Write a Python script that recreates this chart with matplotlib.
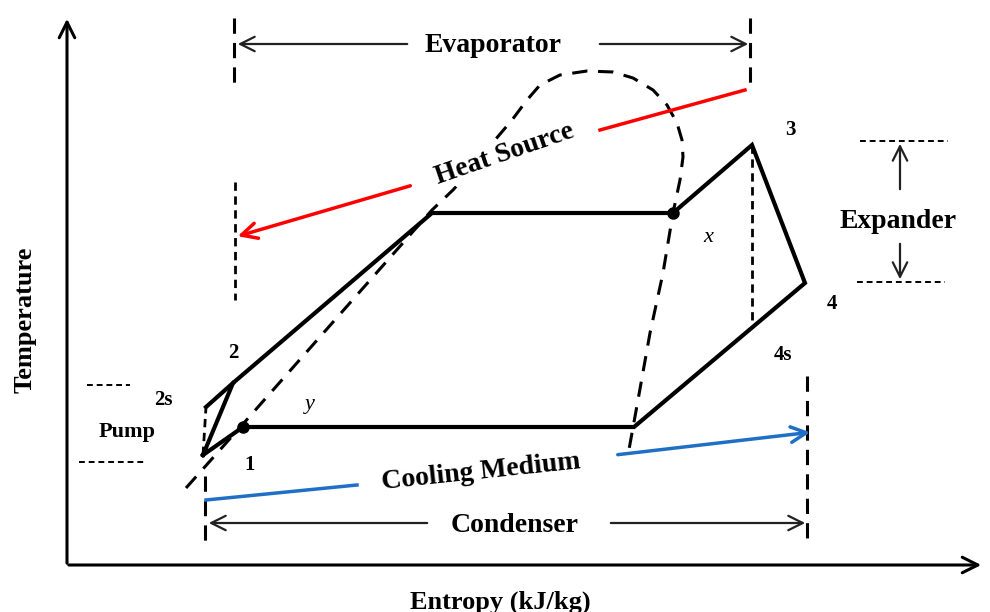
import matplotlib.pyplot as plt

# ---- cycle state points (schematic units, T grows upward) ----
# 1 -> 2 -> sat. liquid -> x -> 3 -> 4 -> sat. vapour(cond.) -> y -> 1
cycle_s = [203, 233, 432, 673, 752, 805, 634, 243, 203]
cycle_T = [157, 229, 399, 399, 467, 329, 185, 185, 157]
pump_ideal_s = [203, 206, 233]      # 1 -> 2s -> 2
pump_ideal_T = [157, 205, 229]
exp_ideal_s = [752, 752]            # 3 -> 4s
exp_ideal_T = [467, 290]
dots_s = [673, 243]
dots_T = [399, 185]

# saturation dome (dashed)
dome_s = [186, 243, 432, 453, 475, 495, 512, 527, 540, 560, 587, 613, 633,
          653, 667, 677, 682, 683, 680, 673, 663, 650, 638, 628]
dome_T = [124, 188, 402, 422, 447, 472, 492, 512, 527, 537, 541, 540, 534,
          522, 507, 489, 472, 455, 432, 399, 339, 279, 212, 157]

point_labels = ["1", "2", "2s", "3", "4", "4s"]
point_label_s = [250, 233, 163, 790, 832, 783]
point_label_T = [147, 259, 212, 482, 308, 257]

H = 612


def T(v):
    return H - v


fig = plt.figure(figsize=(9.9, 6.12), dpi=100)
ax = fig.add_axes([0, 0, 1, 1])
ax.set_xlim(0, 990)
ax.set_ylim(0, H)
ax.axis("off")
font = dict(family="Liberation Serif", weight="bold")

# axes arrows
arr = dict(arrowstyle="->", lw=2.2, color="black", mutation_scale=28)
ax.annotate("", xy=(67, T(16)), xytext=(67, T(566)), arrowprops=arr)
ax.annotate("", xy=(984, T(565)), xytext=(66, T(565)), arrowprops=arr)
ax.text(25, T(320), "Temperature", rotation=90, ha="center", va="center", fontsize=19, **font)
ax.text(500, T(602), "Entropy (kJ/kg)", ha="center", va="center", fontsize=19, **font)

# cycle
ax.plot(cycle_s, cycle_T, color="black", lw=3, solid_joinstyle="miter", zorder=4)
ax.plot(pump_ideal_s[1:], pump_ideal_T[1:], color="black", lw=3, zorder=4)
ax.plot(pump_ideal_s[:2], pump_ideal_T[:2], color="black", lw=2, ls=(0, (3, 2)), zorder=3)
ax.plot(exp_ideal_s, exp_ideal_T, color="black", lw=2, ls=(0, (3, 2)), zorder=3)
ax.plot(dots_s, dots_T, "o", color="black", ms=8, zorder=5)

# dome
ax.plot(dome_s, dome_T, color="black", lw=2.2, ls=(0, (5, 3.5)), zorder=2)

for lab, s, t in zip(point_labels, point_label_s, point_label_T):
    ax.text(s, t, lab, ha="center", va="center", fontsize=15, **font)
ax.text(310, T(404), "y", ha="center", va="center", fontsize=16, style="italic",
        family="Liberation Serif")
ax.text(708, T(238), "x", ha="center", va="center", fontsize=16, style="italic",
        family="Liberation Serif")

# heat source (red) and cooling medium (blue)
ax.plot([745, 600], [T(90), T(130)], color="red", lw=2.5, zorder=3)
ax.annotate("", xy=(235, T(237)), xytext=(413, T(185)),
            arrowprops=dict(arrowstyle="->", lw=2.5, color="red", mutation_scale=28), zorder=3)
ax.text(505, T(154), "Heat Source", rotation=19, ha="center", va="center", fontsize=20,
        bbox=dict(facecolor="white", edgecolor="none", pad=1), zorder=6, **font)

ax.plot([206, 357], [T(500), T(485)], color="#1f6fc5", lw=2.5, zorder=3)
ax.annotate("", xy=(813, T(432)), xytext=(615, T(455)),
            arrowprops=dict(arrowstyle="->", lw=2.5, color="#1f6fc5", mutation_scale=28), zorder=3)
ax.text(481, T(472), "Cooling Medium", rotation=6, ha="center", va="center", fontsize=20,
        zorder=6, **font)

# evaporator dimension
dim = dict(arrowstyle="->", lw=1.6, color="#222222", mutation_scale=26)
ax.plot([234, 234], [T(18), T(84)], color="black", lw=2.2, ls=(0, (5, 3)))
ax.plot([235, 235], [T(182), T(300)], color="black", lw=2, ls=(0, (3, 2)))
ax.plot([750, 750], [T(18), T(88)], color="black", lw=2.2, ls=(0, (5, 3)))
ax.annotate("", xy=(235, T(44)), xytext=(410, T(44)), arrowprops=dim)
ax.annotate("", xy=(751, T(44)), xytext=(597, T(44)), arrowprops=dim)
ax.text(493, T(45), "Evaporator", ha="center", va="center", fontsize=20, **font)

# condenser dimension
ax.plot([205, 205], [T(476), T(546)], color="black", lw=2.2, ls=(0, (5, 3)))
ax.plot([807, 807], [T(376), T(546)], color="black", lw=2.2, ls=(0, (5, 3)))
ax.annotate("", xy=(206, T(523)), xytext=(430, T(523)), arrowprops=dim)
ax.annotate("", xy=(808, T(523)), xytext=(608, T(523)), arrowprops=dim)
ax.text(515, T(525), "Condenser", ha="center", va="center", fontsize=20, **font)

# expander dimension
ax.plot([860, 948], [T(141), T(141)], color="black", lw=1.4, ls=(0, (3, 2)))
ax.plot([857, 945], [T(282), T(282)], color="black", lw=1.4, ls=(0, (3, 2)))
ax.annotate("", xy=(900, T(141)), xytext=(900, T(192)), arrowprops=dim)
ax.annotate("", xy=(900, T(282)), xytext=(900, T(241)), arrowprops=dim)
ax.text(898, T(221), "Expander", ha="center", va="center", fontsize=20, **font)

# pump dimension
ax.plot([87, 130], [T(385), T(385)], color="black", lw=1.4, ls=(0, (3, 2)))
ax.plot([79, 146], [T(462), T(462)], color="black", lw=1.4, ls=(0, (3, 2)))
ax.text(127, T(432), "Pump", ha="center", va="center", fontsize=16, **font)

fig.savefig("out.png", dpi=100)
